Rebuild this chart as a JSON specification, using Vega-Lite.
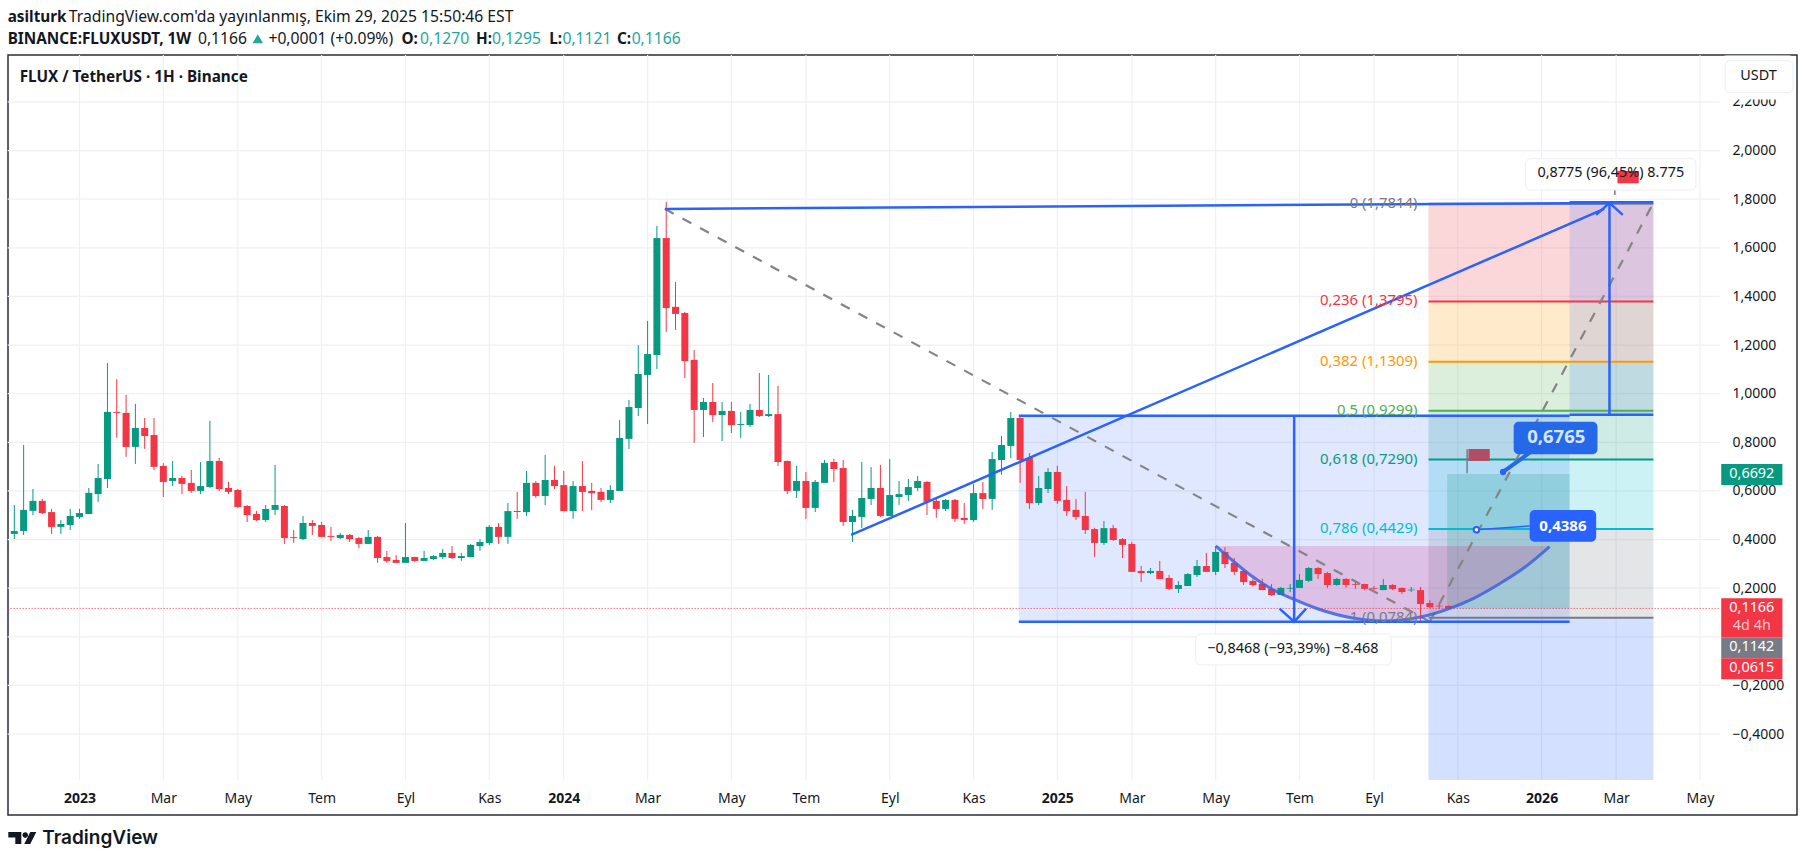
{
  "$schema": "https://vega.github.io/schema/vega-lite/v6.json",
  "width": 1789,
  "height": 760,
  "autosize": {"type": "none"},
  "padding": {"left": 8, "top": 55, "right": 9, "bottom": 47},
  "background": "#ffffff",
  "view": {"stroke": "#2a2e39", "strokeWidth": 1.5},
  "config": {"font": "Noto Sans", "text": {"font": "Noto Sans"}},
  "datasets": {
    "candles": [
      {"date":"2022-11-14","open":0.423,"high":0.542,"low":0.402,"close":0.435},
      {"date":"2022-11-21","open":0.435,"high":0.789,"low":0.419,"close":0.522},
      {"date":"2022-11-28","open":0.518,"high":0.608,"low":0.501,"close":0.559},
      {"date":"2022-12-05","open":0.559,"high":0.567,"low":0.505,"close":0.509},
      {"date":"2022-12-12","open":0.513,"high":0.526,"low":0.423,"close":0.452},
      {"date":"2022-12-19","open":0.452,"high":0.480,"low":0.423,"close":0.464},
      {"date":"2022-12-26","open":0.460,"high":0.526,"low":0.439,"close":0.497},
      {"date":"2023-01-02","open":0.493,"high":0.526,"low":0.485,"close":0.509},
      {"date":"2023-01-09","open":0.505,"high":0.612,"low":0.505,"close":0.592},
      {"date":"2023-01-16","open":0.587,"high":0.711,"low":0.555,"close":0.653},
      {"date":"2023-01-23","open":0.649,"high":1.126,"low":0.612,"close":0.925},
      {"date":"2023-01-30","open":0.925,"high":1.060,"low":0.818,"close":0.921},
      {"date":"2023-02-06","open":0.921,"high":0.995,"low":0.740,"close":0.781},
      {"date":"2023-02-13","open":0.781,"high":0.958,"low":0.711,"close":0.859},
      {"date":"2023-02-20","open":0.859,"high":0.900,"low":0.773,"close":0.826},
      {"date":"2023-02-27","open":0.830,"high":0.900,"low":0.686,"close":0.699},
      {"date":"2023-03-06","open":0.703,"high":0.714,"low":0.575,"close":0.637},
      {"date":"2023-03-13","open":0.641,"high":0.723,"low":0.620,"close":0.653},
      {"date":"2023-03-20","open":0.653,"high":0.662,"low":0.587,"close":0.629},
      {"date":"2023-03-27","open":0.633,"high":0.686,"low":0.592,"close":0.600},
      {"date":"2023-04-03","open":0.600,"high":0.719,"low":0.587,"close":0.620},
      {"date":"2023-04-10","open":0.616,"high":0.888,"low":0.612,"close":0.723},
      {"date":"2023-04-17","open":0.723,"high":0.736,"low":0.600,"close":0.608},
      {"date":"2023-04-24","open":0.612,"high":0.637,"low":0.587,"close":0.596},
      {"date":"2023-05-01","open":0.604,"high":0.608,"low":0.530,"close":0.534},
      {"date":"2023-05-08","open":0.538,"high":0.542,"low":0.472,"close":0.501},
      {"date":"2023-05-15","open":0.505,"high":0.518,"low":0.476,"close":0.480},
      {"date":"2023-05-22","open":0.480,"high":0.542,"low":0.472,"close":0.526},
      {"date":"2023-05-29","open":0.522,"high":0.707,"low":0.501,"close":0.542},
      {"date":"2023-06-05","open":0.538,"high":0.542,"low":0.382,"close":0.406},
      {"date":"2023-06-12","open":0.410,"high":0.439,"low":0.386,"close":0.406},
      {"date":"2023-06-19","open":0.402,"high":0.497,"low":0.398,"close":0.468},
      {"date":"2023-06-26","open":0.468,"high":0.480,"low":0.419,"close":0.456},
      {"date":"2023-07-03","open":0.460,"high":0.472,"low":0.409,"close":0.411},
      {"date":"2023-07-10","open":0.415,"high":0.452,"low":0.394,"close":0.411},
      {"date":"2023-07-17","open":0.406,"high":0.427,"low":0.402,"close":0.419},
      {"date":"2023-07-24","open":0.419,"high":0.423,"low":0.390,"close":0.402},
      {"date":"2023-07-31","open":0.406,"high":0.411,"low":0.365,"close":0.382},
      {"date":"2023-08-07","open":0.382,"high":0.439,"low":0.382,"close":0.411},
      {"date":"2023-08-14","open":0.411,"high":0.415,"low":0.304,"close":0.324},
      {"date":"2023-08-21","open":0.328,"high":0.353,"low":0.304,"close":0.312},
      {"date":"2023-08-28","open":0.316,"high":0.336,"low":0.304,"close":0.304},
      {"date":"2023-09-04","open":0.304,"high":0.468,"low":0.304,"close":0.328},
      {"date":"2023-09-11","open":0.328,"high":0.330,"low":0.308,"close":0.312},
      {"date":"2023-09-18","open":0.312,"high":0.353,"low":0.312,"close":0.324},
      {"date":"2023-09-25","open":0.320,"high":0.336,"low":0.316,"close":0.332},
      {"date":"2023-10-02","open":0.328,"high":0.361,"low":0.320,"close":0.345},
      {"date":"2023-10-09","open":0.345,"high":0.373,"low":0.320,"close":0.324},
      {"date":"2023-10-16","open":0.324,"high":0.345,"low":0.312,"close":0.332},
      {"date":"2023-10-23","open":0.328,"high":0.382,"low":0.328,"close":0.378},
      {"date":"2023-10-30","open":0.373,"high":0.402,"low":0.353,"close":0.390},
      {"date":"2023-11-06","open":0.386,"high":0.460,"low":0.378,"close":0.452},
      {"date":"2023-11-13","open":0.452,"high":0.468,"low":0.382,"close":0.411},
      {"date":"2023-11-20","open":0.411,"high":0.550,"low":0.382,"close":0.517},
      {"date":"2023-11-27","open":0.517,"high":0.596,"low":0.485,"close":0.513},
      {"date":"2023-12-04","open":0.513,"high":0.682,"low":0.497,"close":0.633},
      {"date":"2023-12-11","open":0.633,"high":0.641,"low":0.571,"close":0.579},
      {"date":"2023-12-18","open":0.579,"high":0.748,"low":0.542,"close":0.645},
      {"date":"2023-12-25","open":0.645,"high":0.703,"low":0.608,"close":0.620},
      {"date":"2024-01-01","open":0.624,"high":0.682,"low":0.517,"close":0.517},
      {"date":"2024-01-08","open":0.517,"high":0.641,"low":0.485,"close":0.620},
      {"date":"2024-01-15","open":0.620,"high":0.723,"low":0.517,"close":0.596},
      {"date":"2024-01-22","open":0.600,"high":0.633,"low":0.521,"close":0.591},
      {"date":"2024-01-29","open":0.596,"high":0.612,"low":0.554,"close":0.563},
      {"date":"2024-02-05","open":0.563,"high":0.624,"low":0.550,"close":0.604},
      {"date":"2024-02-12","open":0.600,"high":0.892,"low":0.600,"close":0.818},
      {"date":"2024-02-19","open":0.814,"high":0.974,"low":0.772,"close":0.945},
      {"date":"2024-02-26","open":0.941,"high":1.200,"low":0.908,"close":1.081},
      {"date":"2024-03-04","open":1.077,"high":1.299,"low":0.875,"close":1.163},
      {"date":"2024-03-11","open":1.159,"high":1.690,"low":1.101,"close":1.640},
      {"date":"2024-03-18","open":1.640,"high":1.789,"low":1.254,"close":1.352},
      {"date":"2024-03-25","open":1.357,"high":1.459,"low":1.262,"close":1.328},
      {"date":"2024-04-01","open":1.332,"high":1.336,"low":1.064,"close":1.134},
      {"date":"2024-04-08","open":1.139,"high":1.180,"low":0.797,"close":0.933},
      {"date":"2024-04-15","open":0.933,"high":0.982,"low":0.822,"close":0.966},
      {"date":"2024-04-22","open":0.966,"high":1.044,"low":0.883,"close":0.912},
      {"date":"2024-04-29","open":0.912,"high":0.966,"low":0.805,"close":0.929},
      {"date":"2024-05-06","open":0.929,"high":0.966,"low":0.838,"close":0.871},
      {"date":"2024-05-13","open":0.871,"high":0.925,"low":0.818,"close":0.875},
      {"date":"2024-05-20","open":0.871,"high":0.958,"low":0.863,"close":0.933},
      {"date":"2024-05-27","open":0.933,"high":1.085,"low":0.904,"close":0.908},
      {"date":"2024-06-03","open":0.908,"high":1.077,"low":0.904,"close":0.916},
      {"date":"2024-06-10","open":0.916,"high":1.032,"low":0.703,"close":0.719},
      {"date":"2024-06-17","open":0.723,"high":0.725,"low":0.587,"close":0.600},
      {"date":"2024-06-24","open":0.600,"high":0.703,"low":0.571,"close":0.641},
      {"date":"2024-07-01","open":0.641,"high":0.678,"low":0.485,"close":0.530},
      {"date":"2024-07-08","open":0.530,"high":0.645,"low":0.513,"close":0.637},
      {"date":"2024-07-15","open":0.633,"high":0.727,"low":0.633,"close":0.715},
      {"date":"2024-07-22","open":0.719,"high":0.731,"low":0.637,"close":0.690},
      {"date":"2024-07-29","open":0.694,"high":0.727,"low":0.456,"close":0.472},
      {"date":"2024-08-05","open":0.472,"high":0.522,"low":0.390,"close":0.497},
      {"date":"2024-08-12","open":0.493,"high":0.719,"low":0.448,"close":0.571},
      {"date":"2024-08-19","open":0.567,"high":0.698,"low":0.542,"close":0.612},
      {"date":"2024-08-26","open":0.612,"high":0.707,"low":0.493,"close":0.497},
      {"date":"2024-09-02","open":0.497,"high":0.731,"low":0.497,"close":0.583},
      {"date":"2024-09-09","open":0.575,"high":0.641,"low":0.542,"close":0.587},
      {"date":"2024-09-16","open":0.583,"high":0.649,"low":0.559,"close":0.616},
      {"date":"2024-09-23","open":0.612,"high":0.661,"low":0.600,"close":0.641},
      {"date":"2024-09-30","open":0.637,"high":0.641,"low":0.501,"close":0.555},
      {"date":"2024-10-07","open":0.559,"high":0.571,"low":0.489,"close":0.526},
      {"date":"2024-10-14","open":0.526,"high":0.567,"low":0.517,"close":0.563},
      {"date":"2024-10-21","open":0.563,"high":0.567,"low":0.472,"close":0.485},
      {"date":"2024-10-28","open":0.489,"high":0.550,"low":0.464,"close":0.480},
      {"date":"2024-11-04","open":0.480,"high":0.629,"low":0.472,"close":0.591},
      {"date":"2024-11-11","open":0.591,"high":0.637,"low":0.526,"close":0.567},
      {"date":"2024-11-18","open":0.567,"high":0.760,"low":0.522,"close":0.731},
      {"date":"2024-11-25","open":0.727,"high":0.826,"low":0.666,"close":0.789},
      {"date":"2024-12-02","open":0.785,"high":0.925,"low":0.735,"close":0.900},
      {"date":"2024-12-09","open":0.900,"high":0.905,"low":0.633,"close":0.727},
      {"date":"2024-12-16","open":0.735,"high":0.756,"low":0.526,"close":0.550},
      {"date":"2024-12-23","open":0.550,"high":0.661,"low":0.542,"close":0.612},
      {"date":"2024-12-30","open":0.608,"high":0.694,"low":0.591,"close":0.678},
      {"date":"2025-01-06","open":0.678,"high":0.703,"low":0.546,"close":0.559},
      {"date":"2025-01-13","open":0.563,"high":0.620,"low":0.497,"close":0.517},
      {"date":"2025-01-20","open":0.522,"high":0.567,"low":0.480,"close":0.493},
      {"date":"2025-01-27","open":0.497,"high":0.596,"low":0.423,"close":0.439},
      {"date":"2025-02-03","open":0.443,"high":0.448,"low":0.328,"close":0.386},
      {"date":"2025-02-10","open":0.386,"high":0.476,"low":0.378,"close":0.447},
      {"date":"2025-02-17","open":0.447,"high":0.460,"low":0.394,"close":0.398},
      {"date":"2025-02-24","open":0.402,"high":0.406,"low":0.324,"close":0.378},
      {"date":"2025-03-03","open":0.382,"high":0.390,"low":0.267,"close":0.267},
      {"date":"2025-03-10","open":0.271,"high":0.291,"low":0.225,"close":0.262},
      {"date":"2025-03-17","open":0.262,"high":0.283,"low":0.258,"close":0.271},
      {"date":"2025-03-24","open":0.271,"high":0.312,"low":0.238,"close":0.238},
      {"date":"2025-03-31","open":0.242,"high":0.254,"low":0.192,"close":0.197},
      {"date":"2025-04-07","open":0.197,"high":0.229,"low":0.180,"close":0.213},
      {"date":"2025-04-14","open":0.209,"high":0.262,"low":0.209,"close":0.258},
      {"date":"2025-04-21","open":0.254,"high":0.316,"low":0.246,"close":0.291},
      {"date":"2025-04-28","open":0.291,"high":0.345,"low":0.267,"close":0.267},
      {"date":"2025-05-05","open":0.267,"high":0.373,"low":0.254,"close":0.349},
      {"date":"2025-05-12","open":0.349,"high":0.369,"low":0.283,"close":0.299},
      {"date":"2025-05-19","open":0.304,"high":0.324,"low":0.254,"close":0.267},
      {"date":"2025-05-26","open":0.271,"high":0.275,"low":0.213,"close":0.225},
      {"date":"2025-06-02","open":0.230,"high":0.242,"low":0.206,"close":0.213},
      {"date":"2025-06-09","open":0.217,"high":0.239,"low":0.192,"close":0.192},
      {"date":"2025-06-16","open":0.197,"high":0.217,"low":0.168,"close":0.172},
      {"date":"2025-06-23","open":0.172,"high":0.205,"low":0.172,"close":0.201},
      {"date":"2025-06-30","open":0.198,"high":0.217,"low":0.184,"close":0.201},
      {"date":"2025-07-07","open":0.201,"high":0.258,"low":0.201,"close":0.234},
      {"date":"2025-07-14","open":0.230,"high":0.287,"low":0.225,"close":0.283},
      {"date":"2025-07-21","open":0.283,"high":0.287,"low":0.238,"close":0.258},
      {"date":"2025-07-28","open":0.262,"high":0.267,"low":0.201,"close":0.213},
      {"date":"2025-08-04","open":0.213,"high":0.242,"low":0.209,"close":0.238},
      {"date":"2025-08-11","open":0.238,"high":0.242,"low":0.201,"close":0.213},
      {"date":"2025-08-18","open":0.217,"high":0.230,"low":0.197,"close":0.214},
      {"date":"2025-08-25","open":0.217,"high":0.219,"low":0.192,"close":0.197},
      {"date":"2025-09-01","open":0.201,"high":0.209,"low":0.192,"close":0.198},
      {"date":"2025-09-08","open":0.192,"high":0.238,"low":0.192,"close":0.213},
      {"date":"2025-09-15","open":0.213,"high":0.217,"low":0.192,"close":0.197},
      {"date":"2025-09-22","open":0.201,"high":0.203,"low":0.176,"close":0.184},
      {"date":"2025-09-29","open":0.191,"high":0.205,"low":0.184,"close":0.194},
      {"date":"2025-10-06","open":0.192,"high":0.205,"low":0.058,"close":0.135},
      {"date":"2025-10-13","open":0.139,"high":0.151,"low":0.118,"close":0.122},
      {"date":"2025-10-20","open":0.128,"high":0.139,"low":0.114,"close":0.125},
      {"date":"2025-10-27","open":0.1270,"high":0.1295,"low":0.1121,"close":0.1166}
    ],
    "priceGrid": [
      {"date":"2022-11-09","date2":"2026-05-19","price":2.2},
      {"date":"2022-11-09","date2":"2026-05-19","price":2.0},
      {"date":"2022-11-09","date2":"2026-05-19","price":1.8},
      {"date":"2022-11-09","date2":"2026-05-19","price":1.6},
      {"date":"2022-11-09","date2":"2026-05-19","price":1.4},
      {"date":"2022-11-09","date2":"2026-05-19","price":1.2},
      {"date":"2022-11-09","date2":"2026-05-19","price":1.0},
      {"date":"2022-11-09","date2":"2026-05-19","price":0.8},
      {"date":"2022-11-09","date2":"2026-05-19","price":0.6},
      {"date":"2022-11-09","date2":"2026-05-19","price":0.4},
      {"date":"2022-11-09","date2":"2026-05-19","price":0.2},
      {"date":"2022-11-09","date2":"2026-05-19","price":0},
      {"date":"2022-11-09","date2":"2026-05-19","price":-0.2},
      {"date":"2022-11-09","date2":"2026-05-19","price":-0.4}
    ],
    "timeGrid": [
      {"date":"2023-01-02","price":-0.589,"price2":2.393},
      {"date":"2023-03-06","price":-0.589,"price2":2.393},
      {"date":"2023-05-01","price":-0.589,"price2":2.393},
      {"date":"2023-07-03","price":-0.589,"price2":2.393},
      {"date":"2023-09-04","price":-0.589,"price2":2.393},
      {"date":"2023-11-06","price":-0.589,"price2":2.393},
      {"date":"2024-01-01","price":-0.589,"price2":2.393},
      {"date":"2024-03-04","price":-0.589,"price2":2.393},
      {"date":"2024-05-06","price":-0.589,"price2":2.393},
      {"date":"2024-07-01","price":-0.589,"price2":2.393},
      {"date":"2024-09-02","price":-0.589,"price2":2.393},
      {"date":"2024-11-04","price":-0.589,"price2":2.393},
      {"date":"2025-01-06","price":-0.589,"price2":2.393},
      {"date":"2025-03-03","price":-0.589,"price2":2.393},
      {"date":"2025-05-05","price":-0.589,"price2":2.393},
      {"date":"2025-07-07","price":-0.589,"price2":2.393},
      {"date":"2025-09-01","price":-0.589,"price2":2.393},
      {"date":"2025-11-03","price":-0.589,"price2":2.393},
      {"date":"2026-01-05","price":-0.589,"price2":2.393},
      {"date":"2026-03-02","price":-0.589,"price2":2.393},
      {"date":"2026-05-04","price":-0.589,"price2":2.393}
    ],
    "zones": [
      {"zone":"fib0","date":"2025-10-12","date2":"2026-03-30","price":1.7814,"price2":1.3795},
      {"zone":"fib236","date":"2025-10-12","date2":"2026-03-30","price":1.3795,"price2":1.1309},
      {"zone":"fib382","date":"2025-10-12","date2":"2026-03-30","price":1.1309,"price2":0.9299},
      {"zone":"fib5","date":"2025-10-12","date2":"2026-03-30","price":0.9299,"price2":0.7290},
      {"zone":"fib618","date":"2025-10-12","date2":"2026-03-30","price":0.7290,"price2":0.4429},
      {"zone":"fib786","date":"2025-10-12","date2":"2026-03-30","price":0.4429,"price2":0.0784},
      {"zone":"fib1","date":"2025-10-12","date2":"2026-03-30","price":0.0784,"price2":-0.589},
      {"zone":"measure","date":"2024-12-08","date2":"2026-01-26","price":0.9095,"price2":0.0621},
      {"zone":"measure","date":"2026-01-26","date2":"2026-03-30","price":1.7873,"price2":0.9136},
      {"zone":"range","date":"2025-10-26","date2":"2026-01-26","price":0.6692,"price2":0.1166}
    ],
    "arc": [
      {"date":"2025-05-05","price":0.3735,"price2":0.3735},
      {"date":"2025-05-18","price":0.3118,"price2":0.3735},
      {"date":"2025-05-31","price":0.2542,"price2":0.3735},
      {"date":"2025-06-16","price":0.1966,"price2":0.3735},
      {"date":"2025-07-03","price":0.1534,"price2":0.3735},
      {"date":"2025-07-20","price":0.1164,"price2":0.3735},
      {"date":"2025-08-16","price":0.0773,"price2":0.3735},
      {"date":"2025-09-08","price":0.0650,"price2":0.3735},
      {"date":"2025-10-06","price":0.0814,"price2":0.3735},
      {"date":"2025-10-28","price":0.1172,"price2":0.3735},
      {"date":"2025-11-15","price":0.1584,"price2":0.3735},
      {"date":"2025-12-05","price":0.2201,"price2":0.3735},
      {"date":"2025-12-25","price":0.2925,"price2":0.3735},
      {"date":"2026-01-11","price":0.3706,"price2":0.3735}
    ],
    "fibLevels": [
      {"level":"0","date":"2025-10-12","date2":"2026-03-30","price":1.7814,"label":"0 (1,7814)"},
      {"level":"0.236","date":"2025-10-12","date2":"2026-03-30","price":1.3795,"label":"0,236 (1,3795)"},
      {"level":"0.382","date":"2025-10-12","date2":"2026-03-30","price":1.1309,"label":"0,382 (1,1309)"},
      {"level":"0.5","date":"2025-10-12","date2":"2026-03-30","price":0.9299,"label":"0,5 (0,9299)"},
      {"level":"0.618","date":"2025-10-12","date2":"2026-03-30","price":0.7290,"label":"0,618 (0,7290)"},
      {"level":"0.786","date":"2025-10-12","date2":"2026-03-30","price":0.4429,"label":"0,786 (0,4429)"},
      {"level":"1","date":"2025-10-12","date2":"2026-03-30","price":0.0784,"label":"1 (0,0784)"}
    ],
    "dashed": [
      {"leg":"down","date":"2024-03-17","price":1.7598},
      {"leg":"down","date":"2025-10-13","price":0.0621},
      {"leg":"up","date":"2025-10-13","price":0.0621},
      {"leg":"up","date":"2026-03-30","price":1.7845}
    ],
    "blueLines": [
      {"line":"trend","date":"2024-08-04","price":0.4188},
      {"line":"trend","date":"2026-02-21","price":1.7598},
      {"line":"top","date":"2024-03-17","price":1.7598},
      {"line":"top","date":"2026-02-25","price":1.7845},
      {"line":"m1top","date":"2024-12-08","price":0.9095},
      {"line":"m1top","date":"2026-01-26","price":0.9095},
      {"line":"m1bottom","date":"2024-12-08","price":0.0621},
      {"line":"m1bottom","date":"2026-01-26","price":0.0621},
      {"line":"m1arrow","date":"2025-07-03","price":0.9095},
      {"line":"m1arrow","date":"2025-07-03","price":0.0621},
      {"line":"m1head","date":"2025-06-22","price":0.1156},
      {"line":"m1head","date":"2025-07-03","price":0.0621},
      {"line":"m1head","date":"2025-07-12","price":0.1156},
      {"line":"m2top","date":"2026-01-26","price":1.7873},
      {"line":"m2top","date":"2026-03-30","price":1.7873},
      {"line":"m2bottom","date":"2026-01-26","price":0.9136},
      {"line":"m2bottom","date":"2026-03-30","price":0.9136},
      {"line":"m2arrow","date":"2026-02-25","price":0.9095},
      {"line":"m2arrow","date":"2026-02-25","price":1.7845},
      {"line":"m2head","date":"2026-02-15","price":1.7353},
      {"line":"m2head","date":"2026-02-25","price":1.7845},
      {"line":"m2head","date":"2026-03-07","price":1.7353}
    ],
    "notes": [
      {"date":"2026-05-20","date2":"2026-07-14","price":2.389,"price2":2.212,"kind":"cover"},
      {"date":"2026-05-23","date2":"2026-07-13","price":2.3698,"price2":2.2382,"kind":"box"},
      {"date":"2025-12-24","date2":"2026-05-01","price":1.9667,"price2":1.8379,"kind":"box"},
      {"date":"2025-04-20","date2":"2025-09-14","price":0.0115,"price2":-0.116,"kind":"box"}
    ],
    "tags": [
      {"tag":"flagDim","date":"2025-11-11","date2":"2025-11-27","price":0.7725,"price2":0.7232},
      {"tag":"flagRed","date":"2026-03-03","date2":"2026-03-19","price":1.9161,"price2":1.8655},
      {"tag":"priceGreen","date":"2026-05-20","date2":"2026-07-05","price":0.7108,"price2":0.6244},
      {"tag":"priceRed","date":"2026-05-20","date2":"2026-07-05","price":0.1584,"price2":-0.0021},
      {"tag":"priceGray","date":"2026-05-20","date2":"2026-07-05","price":-0.0021,"price2":-0.0884},
      {"tag":"priceRed","date":"2026-05-20","date2":"2026-07-05","price":-0.0884,"price2":-0.1748}
    ],
    "bubbles": [
      {"tag":"bubbleDark","date":"2025-12-15","date2":"2026-02-16","price":0.8848,"price2":0.7507},
      {"tag":"bubbleBlue","date":"2025-12-27","date2":"2026-02-15","price":0.5216,"price2":0.3912}
    ],
    "texts": [
      {"date":"2026-06-12","price":0.6697,"label":"0,6692","look":"light"},
      {"date":"2026-06-12","price":0.1172,"label":"0,1166","look":"light"},
      {"date":"2026-06-12","price":0.0432,"label":"4d 4h","look":"soft"},
      {"date":"2026-06-12","price":-0.044,"label":"0,1142","look":"light"},
      {"date":"2026-06-12","price":-0.1296,"label":"0,0615","look":"light"},
      {"date":"2026-02-26","price":1.9066,"label":"0,8775 (96,45%) 8.775","look":"dark"},
      {"date":"2025-07-02","price":-0.0502,"label":"−0,8468 (−93,39%) −8.468","look":"dark"},
      {"date":"2026-06-17","price":2.3069,"label":"USDT","look":"dark"}
    ],
    "header": [
      {"date":"2022-12-25","price":2.551,"label":"TradingView.com'da yayınlanmış, Ekim 29, 2025 15:50:46 EST"},
      {"date":"2023-04-01","price":2.46,"label":"0,1166"},
      {"date":"2023-05-24","price":2.46,"label":"+0,0001 (+0.09%)"}
    ],
    "headerBold": [
      {"date":"2022-11-09","price":2.551,"label":"asilturk"},
      {"date":"2022-11-09","price":2.46,"label":"BINANCE:FLUXUSDT, 1W"},
      {"date":"2023-09-01","price":2.46,"label":"O:"},
      {"date":"2023-10-27","price":2.46,"label":"H:"},
      {"date":"2023-12-21","price":2.46,"label":"L:"},
      {"date":"2024-02-10","price":2.46,"label":"C:"},
      {"date":"2022-11-18","price":2.3028,"label":"FLUX / TetherUS · 1H · Binance"}
    ],
    "headerTeal": [
      {"date":"2023-09-15","price":2.46,"label":"0,1270"},
      {"date":"2023-11-08","price":2.46,"label":"0,1295"},
      {"date":"2023-12-31","price":2.46,"label":"0,1121"},
      {"date":"2024-02-21","price":2.46,"label":"0,1166"}
    ],
    "poles": [
      {"date":"2025-11-10","price":0.6726,"price2":0.7713},
      {"date":"2026-03-01","price":1.8174,"price2":1.8996}
    ]
  },
  "encoding": {
    "x": {
      "field": "date",
      "type": "temporal",
      "title": null,
      "scale": {"type": "utc", "padding": 0, "domain": ["2022-11-09T06:00:00Z", "2026-07-15T23:00:00Z"]},
      "axis": {
        "orient": "bottom",
        "offset": -35,
        "grid": false,
        "domain": false,
        "ticks": false,
        "labelPadding": 18,
        "labelBaseline": "middle",
        "labelFont": "Noto Sans",
        "labelFontSize": 14,
        "labelColor": "#131722",
        "labelOverlap": false,
        "labelFontWeight": {"condition": {"test": "utcmonth(datum.value) == 0", "value": "bold"}, "value": "normal"},
        "values": ["2023-01-02","2023-03-06","2023-05-01","2023-07-03","2023-09-04","2023-11-06","2024-01-01","2024-03-04","2024-05-06","2024-07-01","2024-09-02","2024-11-04","2025-01-06","2025-03-03","2025-05-05","2025-07-07","2025-09-01","2025-11-03","2026-01-05","2026-03-02","2026-05-04"],
        "labelExpr": "utcmonth(datum.value) == 0 ? '' + utcyear(datum.value) : ['','','Mar','','May','','Tem','','Eyl','','Kas'][utcmonth(datum.value)]"
      }
    },
    "y": {
      "field": "price",
      "type": "quantitative",
      "title": null,
      "scale": {"domain": [-0.733, 2.393], "nice": false, "zero": false},
      "axis": {
        "orient": "right",
        "offset": -77,
        "grid": false,
        "domain": false,
        "ticks": false,
        "labelPadding": 12,
        "labelAlign": "left",
        "labelFont": "Noto Sans",
        "labelFontSize": 14,
        "labelColor": "#131722",
        "labelOverlap": false,
        "values": [-0.4,-0.2,0.2,0.4,0.6,0.8,1,1.2,1.4,1.6,1.8,2,2.2],
        "labelExpr": "replace(format(datum.value, '.4f'), '.', ',')"
      }
    }
  },
  "layer": [
    {"data": {"name": "priceGrid"}, "mark": {"type": "rule", "color": "#f0f0f3", "strokeWidth": 1.2}, "encoding": {"x2": {"field": "date2"}}},
    {"data": {"name": "timeGrid"}, "mark": {"type": "rule", "color": "#f0f0f3", "strokeWidth": 1.2}, "encoding": {"y2": {"field": "price2"}}},
    {
      "data": {"name": "zones"},
      "mark": "rect",
      "encoding": {
        "x2": {"field": "date2"},
        "y2": {"field": "price2"},
        "color": {
          "field": "zone",
          "type": "nominal",
          "legend": null,
          "scale": {
            "domain": ["fib0","fib236","fib382","fib5","fib618","fib786","fib1","measure","range"],
            "range": ["#f2364533","#ff980033","#4caf5033","#08998133","#00bcd433","#787b8633","#2962ff33","#2962ff26","#08998133"]
          }
        }
      }
    },
    {
      "data": {"name": "arc"},
      "mark": {"type": "area", "color": "#d02484", "opacity": 0.2, "interpolate": "monotone"},
      "encoding": {"y2": {"field": "price2"}}
    },
    {
      "data": {"name": "fibLevels"},
      "mark": {"type": "rule", "strokeWidth": 2},
      "encoding": {
        "x2": {"field": "date2"},
        "color": {
          "field": "level",
          "type": "nominal",
          "legend": null,
          "scale": {
            "domain": ["0","0.236","0.382","0.5","0.618","0.786","1"],
            "range": ["#787b86","#f23645","#ff9800","#4caf50","#089981","#00bcd4","#787b86"]
          }
        }
      }
    },
    {
      "data": {"name": "candles"},
      "mark": {"type": "rule", "strokeWidth": 1},
      "encoding": {
        "y": {"field": "low", "type": "quantitative", "title": null, "axis": {"orient": "right"}},
        "y2": {"field": "high"},
        "color": {"condition": {"test": "datum.open < datum.close", "value": "#089981"}, "value": "#f23645"}
      }
    },
    {
      "data": {"name": "candles"},
      "mark": {"type": "bar", "size": 7},
      "encoding": {
        "y": {"field": "open", "type": "quantitative", "title": null, "axis": {"orient": "right"}},
        "y2": {"field": "close"},
        "color": {"condition": {"test": "datum.open < datum.close", "value": "#089981"}, "value": "#f23645"}
      }
    },
    {
      "data": {"values": [{"date": "2022-11-09", "date2": "2026-05-19", "price": 0.1166}]},
      "mark": {"type": "rule", "color": "#f23645", "strokeWidth": 1, "strokeDash": [1, 2]},
      "encoding": {"x2": {"field": "date2"}}
    },
    {
      "data": {"name": "dashed"},
      "mark": {"type": "line", "color": "#848484", "strokeWidth": 2.2, "strokeDash": [10, 10]},
      "encoding": {"detail": {"field": "leg"}}
    },
    {
      "data": {"name": "arc"},
      "mark": {"type": "line", "color": "#3d63dd", "strokeWidth": 3, "interpolate": "monotone", "opacity": 0.85}
    },
    {
      "data": {"name": "blueLines"},
      "mark": {"type": "line", "color": "#2962ff", "strokeWidth": 2.5},
      "encoding": {"detail": {"field": "line"}}
    },
    {
      "data": {"name": "fibLevels"},
      "mark": {"type": "text", "align": "right", "baseline": "middle", "dx": -11, "fontSize": 14.9, "font": "Noto Sans"},
      "encoding": {
        "text": {"field": "label"},
        "color": {
          "field": "level",
          "type": "nominal",
          "legend": null,
          "scale": {
            "domain": ["0","0.236","0.382","0.5","0.618","0.786","1"],
            "range": ["#787b86","#f23645","#ff9800","#4caf50","#089981","#00bcd4","#787b86"]
          }
        }
      }
    },
    {"data": {"name": "poles"}, "mark": {"type": "rule", "color": "#787b86", "strokeWidth": 1.5}, "encoding": {"y2": {"field": "price2"}}},
    {
      "data": {"name": "notes"},
      "mark": {"type": "rect", "cornerRadius": 5},
      "encoding": {
        "x2": {"field": "date2"},
        "y2": {"field": "price2"},
        "color": {"value": "#ffffff"},
        "stroke": {"field": "kind", "type": "nominal", "legend": null, "scale": {"domain": ["cover", "box"], "range": ["#ffffff", "#eceef2"]}}
      }
    },
    {
      "data": {"name": "tags"},
      "mark": "rect",
      "encoding": {
        "x2": {"field": "date2"},
        "y2": {"field": "price2"},
        "color": {
          "field": "tag",
          "type": "nominal",
          "legend": null,
          "scale": {
            "domain": ["flagDim","flagRed","priceGreen","priceRed","priceGray"],
            "range": ["#b04e66","#f23645","#089981","#f23645","#787b86"]
          }
        }
      }
    },
    {
      "data": {"values": [{"date": "2025-12-07", "price": 0.6779}, {"date": "2025-12-31", "price": 0.7725}]},
      "mark": {"type": "line", "color": "#2669e8", "strokeWidth": 4}
    },
    {
      "data": {"values": [{"date": "2025-11-17", "price": 0.4405}, {"date": "2025-12-27", "price": 0.4558}]},
      "mark": {"type": "line", "color": "#2962ff", "strokeWidth": 1.5}
    },
    {
      "data": {"name": "bubbles"},
      "mark": {"type": "rect", "cornerRadius": 5},
      "encoding": {
        "x2": {"field": "date2"},
        "y2": {"field": "price2"},
        "color": {"field": "tag", "type": "nominal", "legend": null, "scale": {"domain": ["bubbleDark", "bubbleBlue"], "range": ["#2669e8", "#2962ff"]}}
      }
    },
    {
      "data": {"values": [{"date": "2025-12-07", "price": 0.6779}]},
      "mark": {"type": "point", "filled": true, "color": "#2962ff", "size": 40, "opacity": 1}
    },
    {
      "data": {"values": [{"date": "2025-11-17", "price": 0.4405}]},
      "mark": {"type": "point", "filled": true, "fill": "#ffffff", "stroke": "#2962ff", "strokeWidth": 2, "size": 30, "opacity": 1}
    },
    {
      "data": {"name": "texts"},
      "mark": {"type": "text", "align": "center", "baseline": "middle", "fontSize": 14.4, "font": "Noto Sans"},
      "encoding": {
        "text": {"field": "label"},
        "color": {"field": "look", "type": "nominal", "legend": null, "scale": {"domain": ["light", "soft", "dark"], "range": ["#ffffff", "#fbc4ca", "#131722"]}}
      }
    },
    {
      "data": {"values": [{"date": "2026-01-16", "price": 0.8231, "label": "0,6765"}]},
      "mark": {"type": "text", "align": "center", "baseline": "middle", "fontSize": 18.5, "fontWeight": "bold", "color": "#d6e6ff", "font": "Noto Sans"},
      "encoding": {"text": {"field": "label"}}
    },
    {
      "data": {"values": [{"date": "2026-01-21", "price": 0.4558, "label": "0,4386"}]},
      "mark": {"type": "text", "align": "center", "baseline": "middle", "fontSize": 15, "fontWeight": "bold", "color": "#ffffff", "font": "Noto Sans"},
      "encoding": {"text": {"field": "label"}}
    },
    {
      "data": {"name": "header"},
      "mark": {"type": "text", "align": "left", "baseline": "middle", "fontSize": 15.7, "color": "#131722", "font": "Noto Sans"},
      "encoding": {"text": {"field": "label"}}
    },
    {
      "data": {"name": "headerBold"},
      "mark": {"type": "text", "align": "left", "baseline": "middle", "fontSize": 15.3, "fontWeight": "bold", "color": "#131722", "font": "Noto Sans"},
      "encoding": {"text": {"field": "label"}}
    },
    {
      "data": {"name": "headerTeal"},
      "mark": {"type": "text", "align": "left", "baseline": "middle", "fontSize": 15.7, "color": "#26a69a", "font": "Noto Sans"},
      "encoding": {"text": {"field": "label"}}
    },
    {
      "data": {"values": [{"date": "2023-05-16", "price": 2.46}]},
      "mark": {"type": "point", "shape": "triangle-up", "filled": true, "color": "#26a69a", "size": 110, "opacity": 1}
    },
    {
      "data": {"values": [{"date": "2022-11-20", "price": -0.8277}]},
      "mark": {
        "type": "point",
        "filled": true,
        "opacity": 1,
        "color": "#131722",
        "size": 784,
        "shape": "M-1 -.43L-.07 -.43L-.07 .43L-.5 .43L-.5 -.04L-1 -.04ZM.01 -.21a.2 .2 0 1 0 .4 0a.2 .2 0 1 0 -.4 0ZM.57 -.43L1 -.43L.57 .43L.14 .43Z"
      }
    },
    {
      "data": {"values": [{"date": "2022-12-05", "price": -0.8277, "label": "TradingView"}]},
      "mark": {"type": "text", "align": "left", "baseline": "middle", "fontSize": 19, "fontWeight": 600, "color": "#131722", "font": "Inter"},
      "encoding": {"text": {"field": "label"}}
    }
  ],
  "resolve": {"scale": {"color": "independent", "stroke": "independent"}}
}
